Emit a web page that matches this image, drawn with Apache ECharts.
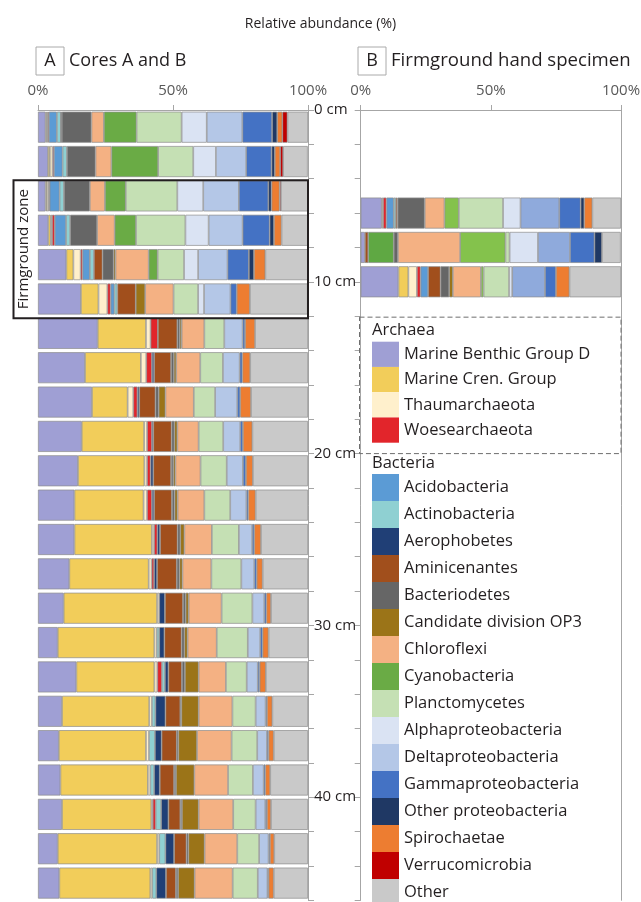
<!DOCTYPE html>
<html><head><meta charset="utf-8">
<script src="https://cdn.jsdelivr.net/npm/echarts@6/dist/echarts.min.js"></script>
<style>html,body{margin:0;padding:0;background:#fff}#c{width:641px;height:902px}</style>
</head><body><div id="c"></div>
<script>
// ---------- categories ----------
const depthIntervalsA = ['0-2','2-4','4-6','6-8','8-10','10-12','12-14','14-16','16-18','18-20','20-22','22-24',
  '24-26','26-28','28-30','30-32','32-34','34-36','36-38','38-40','40-42','42-44','44-46'];
const depthTicksB = ['0','2','4','6','8','10','12','14','16','18','20','22','24','26','28','30','32','34','36','38','40','42','44','46'];
const depthsB = ['6','8','10'];
const percentTicks = [0, 50, 100];
const depthLabelTicks = [0, 10, 20, 30, 40];

const archaeaNames = ['Marine Benthic Group D','Marine Cren. Group','Thaumarchaeota','Woesearchaeota'];
const bacteriaNames = ['Acidobacteria','Actinobacteria','Aerophobetes','Aminicenantes','Bacteriodetes',
  'Candidate division OP3','Chloroflexi','Cyanobacteria','Planctomycetes','Alphaproteobacteria',
  'Deltaproteobacteria','Gammaproteobacteria','Other proteobacteria','Spirochaetae','Verrucomicrobia','Other'];

// ---------- Panel A values (% per 2-cm interval, top to bottom) ----------
const A_MBGD    = [2.8,3.7,2.8,3.8,10.5,15.9,22.1,17.4,20.0,16.2,14.8,13.5,13.5,11.6,9.5,7.3,14.2,8.9,7.7,8.3,8.9,7.3,7.9];
const A_MCG     = [0.4,0.7,0.5,0.9,2.6,6.5,17.9,20.7,13.2,23.1,24.6,25.6,28.7,29.4,34.6,35.8,28.9,32.3,32.3,32.4,33.1,36.8,33.7];
const A_Thaum   = [0.4,1.0,0.7,0.5,2.7,3.3,1.7,2.0,2.1,1.1,1.0,1.3,0.8,1.1,0.8,0.9,1.1,1.0,1.1,0.9,0.5,0.8,0.7];
const A_Woese   = [0.4,0.5,0.3,1.0,0.7,1.2,2.7,2.1,1.5,1.8,1.3,1.8,1.2,0.9,0,0,1.7,0,0,0,1.1,0,0];
const A_Acido   = [3.0,3.2,3.7,4.2,2.7,1.4,0,0,0,0,0,0,0,0,0,0,0,0,0,0,0,0,0];
const A_Actino  = [1.5,1.6,1.6,1.5,1.5,1.1,0,0,0,0,0,0,0,0,0,0.9,1.1,1.3,2.2,1.4,2.0,2.3,1.5];
const A_Aero    = [0.1,0,0,0,0,0,0,0.8,0.7,0.5,1.0,0.8,1.0,1.1,2.1,1.9,1.3,3.7,2.5,2.1,2.7,3.2,3.6];
const A_Amini   = [0.2,0,0,0,3.2,6.8,7.2,6.3,6.0,6.8,6.6,6.6,6.5,7.3,6.7,6.4,5.0,5.5,5.6,5.3,4.4,4.6,3.7];
const A_Bact    = [11.0,10.6,9.6,10.0,4.1,0,0.9,1.0,1.2,1.0,0.8,1.0,1.0,1.0,1.0,1.0,1.1,0.4,0.6,0.7,0.6,0.7,0.8];
const A_OP3     = [0,0,0,0,0.7,3.5,0.7,0.9,2.5,1.1,0.8,1.1,1.5,1.1,1.1,1.2,5.1,6.4,6.9,6.8,6.2,6.0,6.1];
const A_Chloro  = [4.6,5.9,5.6,6.5,12.3,10.5,8.4,8.9,10.5,7.9,9.3,9.9,10.2,10.7,12.2,10.8,10.1,12.5,12.8,12.5,12.8,12.1,14.1];
const A_Cyano   = [12.1,17.3,7.7,7.9,3.3,0,0,0,0,0,0,0,0,0,0,0,0,0,0,0,0,0,0];
const A_Plancto = [16.7,13.0,19.1,18.3,9.8,9.1,7.4,8.4,7.9,9.1,9.7,9.6,10.0,11.1,11.4,11.5,7.7,8.6,9.5,9.2,8.3,8.1,9.3];
const A_Alpha   = [9.3,8.4,9.6,8.6,5.2,2.2,0,0,0,0,0,0,0,0,0,0,0,0,0,0,0,0,0];
const A_Delta   = [13.2,11.2,13.2,12.6,10.9,9.8,6.8,6.2,8.2,6.3,6.0,6.0,4.9,4.8,4.4,4.6,4.1,3.7,3.6,4.0,3.6,3.5,3.6];
const A_Gamma   = [11.0,9.4,10.9,10.0,7.9,2.3,0.9,1.0,1.1,1.0,1.1,0.7,0.8,0.9,0.8,0.9,0.7,0.5,0.6,0.6,0.6,0.5,0.4];
const A_OtherP  = [1.9,1.2,1.2,1.6,1.9,0,0,0,0,0,0,0,0,0,0,0,0,0,0,0,0,0,0];
const A_Spiro   = [1.9,2.0,3.0,2.8,4.2,4.9,3.7,2.9,4.0,3.5,2.6,2.7,2.5,2.2,1.7,2.2,2.3,2.0,1.9,1.8,1.5,1.6,1.9];
const A_Verru   = [1.9,1.1,0.5,0,0,0,0,0,0,0,0,0,0,0,0,0,0,0,0,0,0,0,0];
const A_Other   = [7.6,9.1,10.0,9.8,15.8,21.4,19.6,21.4,21.1,20.6,20.4,19.4,17.4,16.8,13.7,14.6,15.6,13.2,12.7,14.0,13.7,12.5,12.7];

// ---------- Panel B values (% at 6, 8, 10 cm) ----------
const B_MBGD    = [8.1,1.6,14.5];
const B_MCG     = [0,0,3.8];
const B_Thaum   = [0.5,0,3.3];
const B_Woese   = [1.3,0,1.4];
const B_Acido   = [2.8,0,2.9];
const B_Actino  = [0.8,0,0];
const B_Aero    = [0,0,0];
const B_Amini   = [0.7,1.3,4.8];
const B_CyanoLow= [0,9.8,0];
const B_Bact    = [10.4,1.6,3.3];
const B_OP3     = [0,0,1.4];
const B_Chloro  = [7.6,23.9,10.8];
const B_Cyano   = [5.5,17.4,1.0];
const B_Plancto = [17.0,1.6,9.8];
const B_Alpha   = [6.7,10.9,1.2];
const B_Delta   = [14.9,12.3,12.6];
const B_Gamma   = [8.2,9.4,4.2];
const B_OtherP  = [1.4,2.9,0];
const B_Spiro   = [3.1,0,5.2];
const B_Verru   = [0,0,0];
const B_Other   = [11.0,7.2,19.8];

// ---------- styles ----------
const palette = {
  'Marine Benthic Group D':'#9f9fd4','Marine Cren. Group':'#f2cd5a','Thaumarchaeota':'#fff0cc','Woesearchaeota':'#e2252b',
  'Acidobacteria':'#5b9bd5','Actinobacteria':'#8fd0d2','Aerophobetes':'#203f76','Aminicenantes':'#a14f1c',
  'Bacteriodetes':'#666666','Candidate division OP3':'#9b7418','Chloroflexi':'#f4b183','Cyanobacteria':'#6aab45',
  'Planctomycetes':'#c5e0b4','Alphaproteobacteria':'#dae3f3','Deltaproteobacteria':'#b4c7e7','Gammaproteobacteria':'#4472c4',
  'Other proteobacteria':'#1f3864','Spirochaetae':'#ed7d31','Verrucomicrobia':'#c00000','Other':'#c9c9c9'
};
const paletteB = Object.assign({}, palette, {'Deltaproteobacteria':'#8faadc','Cyanobacteria':'#84c24c'});

const seriesDefA = [
  ['Marine Benthic Group D',A_MBGD],['Marine Cren. Group',A_MCG],['Thaumarchaeota',A_Thaum],['Woesearchaeota',A_Woese],
  ['Acidobacteria',A_Acido],['Actinobacteria',A_Actino],['Aerophobetes',A_Aero],['Aminicenantes',A_Amini],
  ['Bacteriodetes',A_Bact],['Candidate division OP3',A_OP3],['Chloroflexi',A_Chloro],['Cyanobacteria',A_Cyano],
  ['Planctomycetes',A_Plancto],['Alphaproteobacteria',A_Alpha],['Deltaproteobacteria',A_Delta],['Gammaproteobacteria',A_Gamma],
  ['Other proteobacteria',A_OtherP],['Spirochaetae',A_Spiro],['Verrucomicrobia',A_Verru],['Other',A_Other]
];
const seriesDefB = [
  ['Marine Benthic Group D',B_MBGD,null],['Marine Cren. Group',B_MCG,null],['Thaumarchaeota',B_Thaum,null],['Woesearchaeota',B_Woese,null],
  ['Acidobacteria',B_Acido,null],['Actinobacteria',B_Actino,null],['Aerophobetes',B_Aero,null],['Aminicenantes',B_Amini,null],
  ['Cyanobacteria',B_CyanoLow,'#5fa843'],
  ['Bacteriodetes',B_Bact,null],['Candidate division OP3',B_OP3,null],['Chloroflexi',B_Chloro,null],['Cyanobacteria',B_Cyano,null],
  ['Planctomycetes',B_Plancto,null],['Alphaproteobacteria',B_Alpha,null],['Deltaproteobacteria',B_Delta,null],['Gammaproteobacteria',B_Gamma,null],
  ['Other proteobacteria',B_OtherP,null],['Spirochaetae',B_Spiro,null],['Verrucomicrobia',B_Verru,null],['Other',B_Other,null]
];

const FONT = 'Open Sans';
const TXT = '#231f20';
const AX = '#a6a6a6';
const PX_PER_2CM = 34.36;
const DEPTH_MAX = 46;
const GRID_H = PX_PER_2CM * DEPTH_MAX / 2;

const barStyle = c => ({color:c, borderColor:'#8c8c8c', borderWidth:0.7});
const clean = v => (v > 0 ? v : '-');

const series = [];
seriesDefA.forEach(([name, arr]) => {
  series.push({name, type:'bar', stack:'A', xAxisIndex:0, yAxisIndex:0, barWidth:31,
    itemStyle: barStyle(palette[name]), data: arr.map(clean)});
});
seriesDefB.forEach(([name, arr, col]) => {
  series.push({name, type:'bar', stack:'B', xAxisIndex:1, yAxisIndex:2, barWidth:31,
    itemStyle: barStyle(col || paletteB[name]),
    data: depthTicksB.map(d => { const k = depthsB.indexOf(d); return k < 0 ? '-' : clean(arr[k]); })});
});

const pctAxis = (gi) => ({
  gridIndex: gi, type:'value', position:'top', min:0, max:100, interval:50,
  axisLine:{show:true, lineStyle:{color:AX, width:1}},
  axisTick:{show:true, length:5, lineStyle:{color:AX}},
  axisLabel:{formatter: v => percentTicks.includes(v) ? v + '%' : '', fontFamily:FONT, fontSize:15, color:'#595959', margin:12},
  splitLine:{show:false}
});

const legendCommon = {
  orient:'vertical', left:372, itemWidth:27, itemGap:0, padding:0, icon:'rect', selectedMode:false,
  itemStyle:{borderWidth:0}, height:460,
  textStyle:{fontFamily:FONT, fontSize:16.5, color:TXT}
};

const chart = echarts.init(document.getElementById('c'), null, {renderer:'canvas'});
chart.setOption({
  animation:false,
  textStyle:{fontFamily:FONT},
  title:{text:'Relative abundance (%)', left:'center', top:12,
    textStyle:{fontFamily:FONT, fontSize:14, fontWeight:'normal', color:TXT}},
  grid:[
    {left:38, top:110, width:270, height:GRID_H, containLabel:false, outerBoundsMode:'none'},
    {left:360.7, top:110, width:260.3, height:GRID_H, containLabel:false, outerBoundsMode:'none'}
  ],
  xAxis:[pctAxis(0), pctAxis(1)],
  yAxis:[
    {gridIndex:0, type:'category', data:depthIntervalsA, inverse:true, show:false},
    {gridIndex:0, type:'value', position:'right', min:0, max:DEPTH_MAX, interval:2, inverse:true,
      axisLine:{show:true, lineStyle:{color:AX}},
      axisTick:{show:true, length:6, lineStyle:{color:AX}},
      axisLabel:{formatter: v => depthLabelTicks.includes(v) ? v + ' cm' : '', margin:6, fontFamily:FONT, fontSize:15, color:TXT, padding:[0,0,9,0]},
      splitLine:{show:false}},
    {gridIndex:1, type:'category', data:depthTicksB, boundaryGap:false, inverse:true, position:'left',
      axisLine:{show:true, lineStyle:{color:AX}},
      axisTick:{show:true, length:6, lineStyle:{color:AX}},
      axisLabel:{show:false}},
    {gridIndex:1, type:'value', position:'right', min:0, max:DEPTH_MAX, inverse:true,
      axisLine:{show:true, lineStyle:{color:AX}}, axisTick:{show:false}, axisLabel:{show:false}, splitLine:{show:false}}
  ],
  legend:[
    Object.assign({}, legendCommon, {data:archaeaNames, top:341.7, itemHeight:25.25}),
    Object.assign({}, legendCommon, {data:bacteriaNames, top:474, itemHeight:27})
  ],
  series
});

// annotations positioned through the depth axis
const yTop = chart.convertToPixel({yAxisIndex:1}, 4) + 1.5;
const yBot = chart.convertToPixel({yAxisIndex:1}, 12) + 2;
const bTop = chart.convertToPixel({yAxisIndex:3}, 12) + 1;
const bBot = chart.convertToPixel({yAxisIndex:3}, 20);

chart.setOption({
  graphic:[
    {type:'rect', shape:{x:36, y:47, width:28, height:28}, style:{fill:'none', stroke:'#aaaaaa', lineWidth:1}},
    {type:'text', x:50, y:61, style:{text:'A', font:'18px "Open Sans"', fill:TXT, align:'center', verticalAlign:'middle'}},
    {type:'text', x:69, y:61, style:{text:'Cores A and B', font:'18px "Open Sans"', fill:TXT, align:'left', verticalAlign:'middle'}},
    {type:'rect', shape:{x:358, y:47, width:28, height:28}, style:{fill:'none', stroke:'#aaaaaa', lineWidth:1}},
    {type:'text', x:372, y:61, style:{text:'B', font:'18px "Open Sans"', fill:TXT, align:'center', verticalAlign:'middle'}},
    {type:'text', x:391, y:61, style:{text:'Firmground hand specimen', font:'18.6px "Open Sans"', fill:TXT, align:'left', verticalAlign:'middle'}},
    {type:'rect', shape:{x:13.5, y:yTop, width:294.5, height:yBot - yTop}, style:{fill:'none', stroke:TXT, lineWidth:2}, z:100},
    {type:'text', x:24, y:(yTop + yBot)/2, rotation:Math.PI/2,
      style:{text:'Firmground zone', font:'15px "Open Sans"', fill:TXT, align:'center', verticalAlign:'middle'}, z:100},
    {type:'rect', shape:{x:359.5, y:bTop, width:261.5, height:bBot - bTop}, style:{fill:'none', stroke:'#6e6e6e', lineWidth:1, lineDash:[5,3]}, z:100},
    {type:'text', x:372, y:330, style:{text:'Archaea', font:'16.5px "Open Sans"', fill:TXT, align:'left', verticalAlign:'middle'}},
    {type:'text', x:372, y:463, style:{text:'Bacteria', font:'16.5px "Open Sans"', fill:TXT, align:'left', verticalAlign:'middle'}}
  ]
});
</script></body></html>
